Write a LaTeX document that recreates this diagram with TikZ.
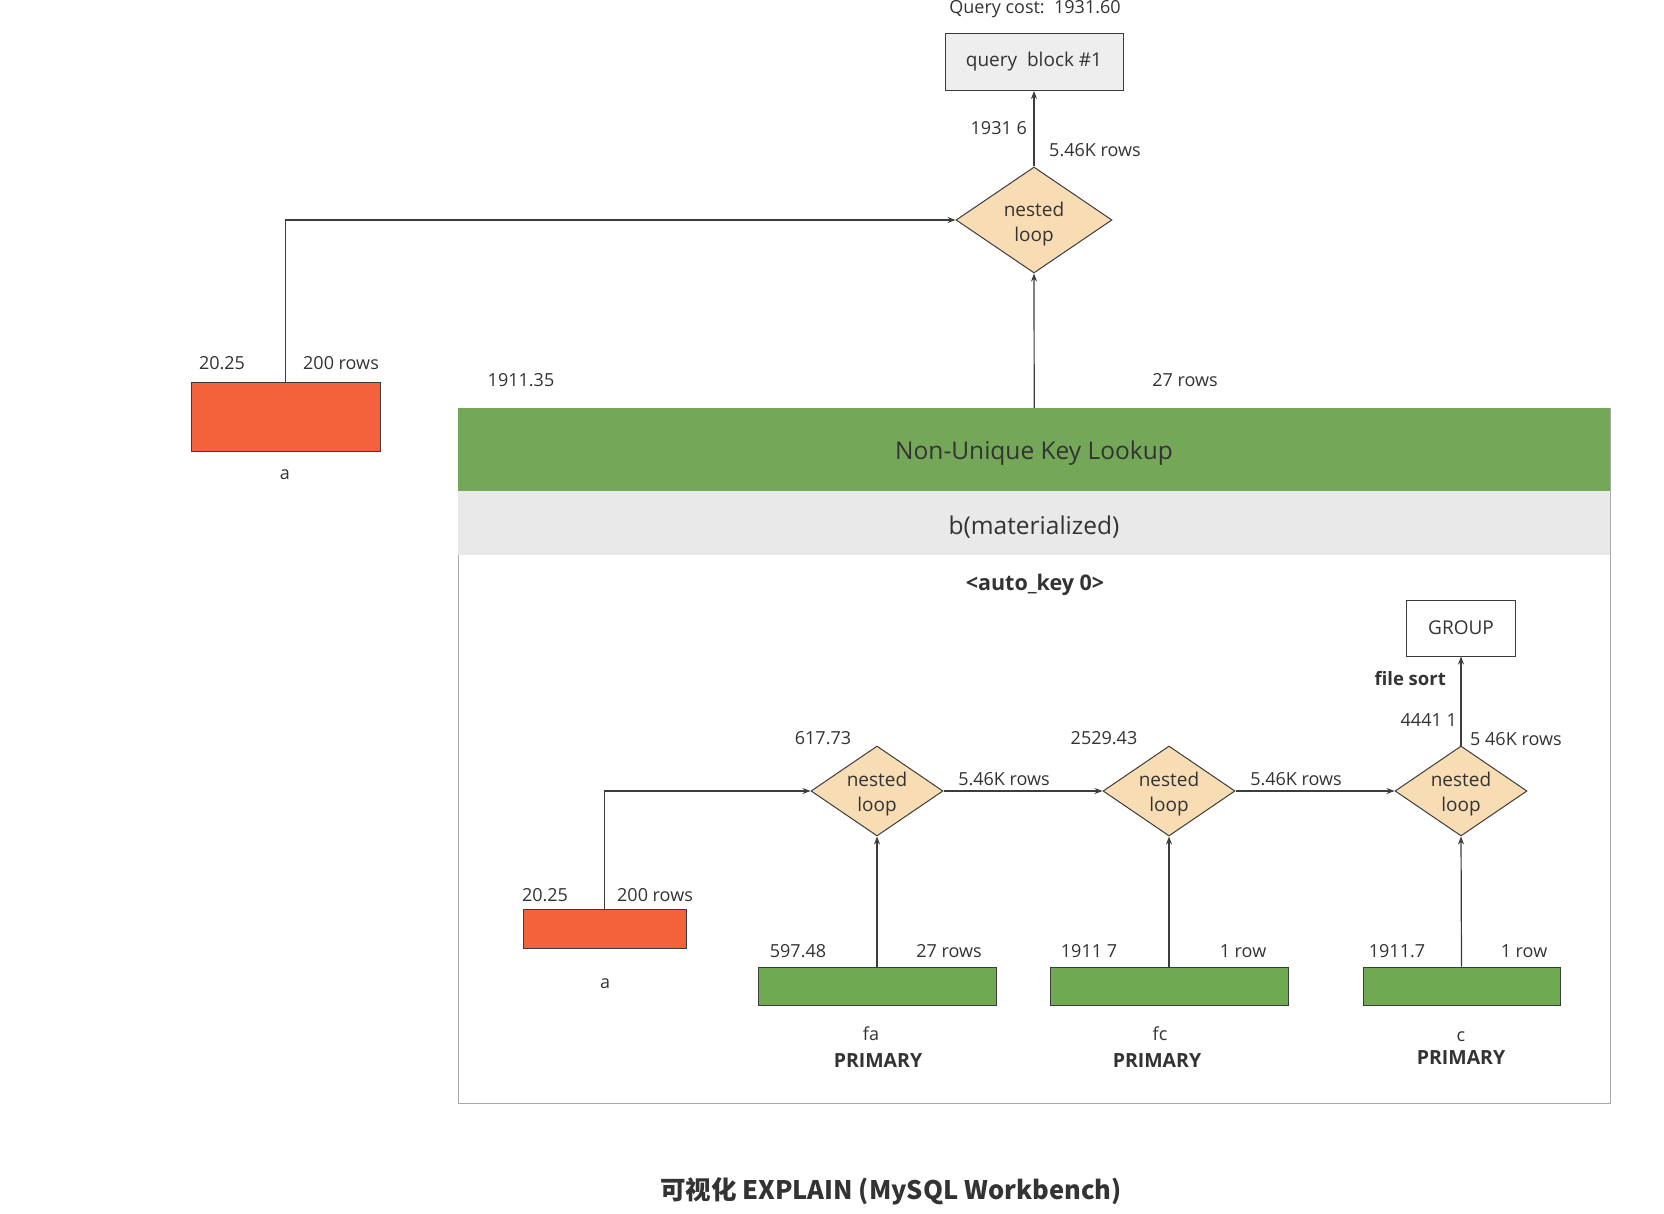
\documentclass[tikz,border=0pt]{standalone}
\usepackage{fontspec}
\setmainfont{Open Sans}
\newfontfamily\cjk{Noto Sans CJK SC}
\usetikzlibrary{shapes.geometric,arrows.meta}
\definecolor{txt}{HTML}{333333}
\definecolor{ln}{HTML}{3C3C3C}
\definecolor{redbox}{HTML}{F4623C}
\definecolor{hdrgreen}{HTML}{74A858}
\definecolor{boxgreen}{HTML}{6FAA52}
\definecolor{bandgray}{HTML}{E9E9E9}
\definecolor{qbgray}{HTML}{EEEEEE}
\definecolor{diafill}{HTML}{F8DDB4}
\definecolor{outerln}{HTML}{A8A8A8}
\tikzset{
  lbl/.style={font=\fontsize{18}{22}\selectfont, text=txt, inner sep=0pt},
  blbl/.style={font=\fontsize{19.5}{23}\selectfont\bfseries, text=txt, inner sep=0pt},
  arr/.style={draw=ln, line width=1.2pt, -{Stealth[length=8pt,width=6pt]}},
  loopnode/.style={diamond, draw=ln, line width=1pt, fill=diafill, inner sep=0pt, shape aspect=1.5},
  looptext/.style={align=center, text=txt, font=\fontsize{19}{25}\selectfont, inner sep=0pt},
  redtab/.style={draw=ln, line width=1pt, fill=redbox, inner sep=0pt},
  greentab/.style={draw=ln, line width=1pt, fill=boxgreen, inner sep=0pt},
  plainbox/.style={draw=ln, line width=1pt, inner sep=0pt, text=txt, font=\fontsize{19}{23}\selectfont},
}
\begin{document}
\begin{tikzpicture}[x=1pt,y=-1pt]
\useasboundingbox[fill=white] (0,0) rectangle (1664,1214);

% top part
\node[lbl] (cost) at (1035,9) {Query cost:\ \ 1931.60};
\node[plainbox, fill=qbgray, minimum width=178, minimum height=57] (qb) at (1034,62) {query\ \ block \#1};
\node[loopnode, minimum width=156, minimum height=106] (nl0) at (1034,220) {};
\node[looptext] (nl0t) at (1034,224) {nested\\loop};
\node[lbl, anchor=east] (c0) at (1027,128) {1931 6};
\node[lbl, anchor=west] (r0) at (1049,150) {5.46K rows};

% left table a
\node[redtab, minimum width=189, minimum height=69] (ta) at (285.5,416.5) {};
\node[lbl] (ca) at (222,363) {20.25};
\node[lbl] (ra) at (341,363) {200 rows};
\node[lbl] (na) at (285,475) {a};

% big box
\node[draw=outerln, line width=1pt, minimum width=1152, minimum height=695, anchor=north west, inner sep=0pt] (outer) at (458,408) {};
\node[fill=hdrgreen, minimum width=1152, minimum height=83, anchor=north west, inner sep=0pt] (nuk) at (458,408) {};
\node[text=txt, font=\fontsize{24.5}{28}\selectfont, inner sep=0pt] (nukt) at (1034,453) {Non-Unique Key Lookup};
\node[fill=bandgray, minimum width=1152, minimum height=64, anchor=north west, inner sep=0pt] (bmat) at (458,491) {};
\node[text=txt, font=\fontsize{24.5}{28}\selectfont, inner sep=0pt] (bmatt) at (1034,527) {b(materialized)};
\node[lbl] (cb) at (521,380) {1911.35};
\node[lbl] (rb) at (1185,380) {27 rows};
\node[text=txt, font=\fontsize{21.5}{25}\selectfont\bfseries, inner sep=0pt] (akey) at (1035,585) {<auto\_key 0>};

% inner graph
\node[plainbox, fill=white, minimum width=109, minimum height=56] (grp) at (1461,628) {GROUP};
\node[blbl, font=\fontsize{18.5}{22}\selectfont\bfseries, anchor=east] (fs) at (1446,679) {file sort};
\node[lbl, anchor=east] (c3) at (1457,720) {4441 1};
\node[lbl, anchor=west] (r3) at (1470,739) {5 46K rows};

\node[loopnode, minimum width=132, minimum height=90] (nl1) at (877,791) {};
\node[loopnode, minimum width=132, minimum height=90] (nl2) at (1169,791) {};
\node[loopnode, minimum width=132, minimum height=90] (nl3) at (1461,791) {};
\node[looptext] (nl1t) at (877,794) {nested\\loop};
\node[looptext] (nl2t) at (1169,794) {nested\\loop};
\node[looptext] (nl3t) at (1461,794) {nested\\loop};
\node[lbl] (c1) at (823,738) {617.73};
\node[lbl] (c2) at (1104,738) {2529.43};
\node[lbl] (r12) at (1004,779) {5.46K rows};
\node[lbl] (r23) at (1296,779) {5.46K rows};

\node[redtab, minimum width=163, minimum height=39] (ta2) at (604.5,928.5) {};
\node[lbl] (ca2) at (545,895) {20.25};
\node[lbl] (ra2) at (655,895) {200 rows};
\node[lbl] (na2) at (605,984) {a};

\node[greentab, minimum width=238, minimum height=38] (tfa) at (877,986) {};
\node[greentab, minimum width=238, minimum height=38] (tfc) at (1169,986) {};
\node[greentab, minimum width=197, minimum height=38] (tc) at (1461.5,986) {};
\node[lbl] (cfa) at (798,951) {597.48};
\node[lbl] (rfa) at (949,951) {27 rows};
\node[lbl] (cfc) at (1089,951) {1911 7};
\node[lbl] (rfc) at (1243,951) {1 row};
\node[lbl] (cc) at (1397,951) {1911.7};
\node[lbl] (rc) at (1524,951) {1 row};
\node[lbl] (nfa) at (871,1034) {fa};
\node[blbl] (pfa) at (878,1061) {PRIMARY};
\node[lbl] (nfc) at (1160,1034) {fc};
\node[blbl] (pfc) at (1157,1061) {PRIMARY};
\node[lbl] (nc) at (1461,1037) {c};
\node[blbl] (pc) at (1461,1058) {PRIMARY};

% connectors
\draw[arr] (nl0.north) -- (qb.south);
\draw[arr] (ta.north) |- (nl0.west);
\draw[arr] (nuk.north) -- (nl0.south);
\draw[arr] (ta2.north) |- (nl1.west);
\draw[arr] (nl1.east) -- (nl2.west);
\draw[arr] (nl2.east) -- (nl3.west);
\draw[arr] (nl3.north) -- (grp.south);
\draw[arr] (tfa.north) -- (nl1.south);
\draw[arr] (tfc.north) -- (nl2.south);
\draw[arr] (tc.north) -- (nl3.south);

% caption
\node[text=txt, font=\cjk\fontsize{25.5}{30}\selectfont\bfseries, inner sep=0pt] (cap) at (891,1191) {可视化 EXPLAIN (MySQL Workbench)};
\end{tikzpicture}
\end{document}
